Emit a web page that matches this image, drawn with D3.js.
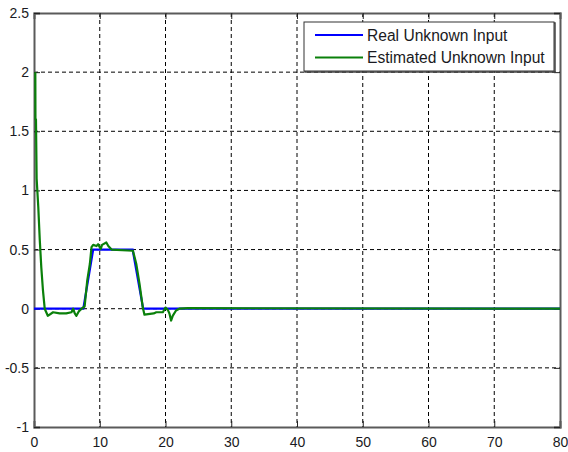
<!DOCTYPE html>
<html>
<head>
<meta charset="utf-8">
<script src="https://cdn.jsdelivr.net/npm/d3@7"></script>
<style>
html,body{margin:0;padding:0;background:#fff;}
svg{display:block;}
text{font-family:Arial,"Liberation Sans",sans-serif;fill:#1a1a22;}
</style>
</head>
<body>
<svg id="chart" width="568" height="452"></svg>
<script>
// ---- data ----
const xTicks = [0, 10, 20, 30, 40, 50, 60, 70, 80];
const yTicks = [-1, -0.5, 0, 0.5, 1, 1.5, 2, 2.5];
const yTickLabels = ["-1", "-0.5", "0", "0.5", "1", "1.5", "2", "2.5"];
const seriesNames = ["Real Unknown Input", "Estimated Unknown Input"];

const realT = [0, 7.5, 9, 15, 16.6, 80];
const realV = [0, 0, 0.5, 0.5, 0, 0];

const estT = [0.2, 0.22, 0.3, 0.4, 0.65, 0.88, 1.11, 1.37, 1.63, 2.1, 2.9, 3.9, 4.9, 5.7, 5.95, 6.2, 6.45, 6.85, 7.25, 7.7, 8.1, 8.5, 8.75, 9.0, 9.5, 9.75, 10.15, 10.35, 11.0, 11.3, 11.8, 15.05, 15.55, 16.05, 16.55, 16.8, 18.2, 18.6, 19.6, 20.0, 20.35, 20.6, 20.85, 21.1, 21.6, 22.1, 23.4, 80];
const estV = [2.0, 1.6, 1.6, 1.1, 0.86, 0.58, 0.35, 0.15, 0.0, -0.06, -0.03, -0.04, -0.04, -0.03, 0.0, -0.04, -0.06, -0.02, 0.0, 0.02, 0.24, 0.38, 0.52, 0.54, 0.53, 0.545, 0.505, 0.54, 0.56, 0.53, 0.5, 0.49, 0.38, 0.21, 0.01, -0.05, -0.04, -0.03, -0.03, 0.01, -0.01, -0.04, -0.1, -0.06, -0.015, 0, 0.005, 0];

// ---- layout ----
const L = 34, R = 560, T = 13, B = 427;
const svg = d3.select("#chart");
const x = d3.scaleLinear().domain([0, 80]).range([L, R]);
const y = d3.scaleLinear().domain([-1, 2.5]).range([B, T]);

svg.append("rect").attr("x", 0).attr("y", 0).attr("width", 568).attr("height", 452).attr("fill", "#fff");

// grid
const grid = svg.append("g");
xTicks.slice(1, -1).forEach(t => {
  grid.append("line").attr("x1", x(t)).attr("x2", x(t)).attr("y1", T).attr("y2", B)
    .attr("stroke", "#000").attr("stroke-width", 1).attr("stroke-dasharray", "4,3");
});
yTicks.slice(1, -1).forEach(t => {
  grid.append("line").attr("x1", L).attr("x2", R).attr("y1", y(t)).attr("y2", y(t))
    .attr("stroke", "#000").attr("stroke-width", 1).attr("stroke-dasharray", "4,3");
});

// axes (MATLAB box with inward ticks)
const axColor = "#5a5a5a";
const xAxB = d3.axisBottom(x).tickValues(xTicks).tickSize(-6).tickPadding(10).tickFormat(d3.format("d"));
const xAxT = d3.axisTop(x).tickValues(xTicks).tickSize(-6).tickFormat("");
const yAxL = d3.axisLeft(y).tickValues(yTicks).tickSize(-6).tickPadding(5).tickFormat((d, i) => yTickLabels[i]);
const yAxR = d3.axisRight(y).tickValues(yTicks).tickSize(-6).tickFormat("");

function style(g) {
  g.select(".domain").attr("stroke", axColor).attr("stroke-width", 2);
  g.selectAll(".tick line").attr("stroke", "#222").attr("stroke-width", 1);
  g.selectAll(".tick text").attr("font-size", 14).attr("font-family", "Arial, 'Liberation Sans', sans-serif").attr("fill", "#1a1a22");
}
svg.append("g").attr("transform", `translate(0,${B})`).call(xAxB).call(style);
svg.append("g").attr("transform", `translate(0,${T})`).call(xAxT).call(style);
svg.append("g").attr("transform", `translate(${L},0)`).call(yAxL).call(style);
svg.append("g").attr("transform", `translate(${R},0)`).call(yAxR).call(style);

// lines
const line = d3.line().x(d => x(d[0])).y(d => y(d[1]));
svg.append("path").datum(realT.map((t, i) => [t, realV[i]]))
  .attr("d", line).attr("fill", "none").attr("stroke", "#0000ff").attr("stroke-width", 2.2);
svg.append("path").datum(estT.map((t, i) => [t, estV[i]]))
  .attr("d", line).attr("fill", "none").attr("stroke", "#0a800a").attr("stroke-width", 2.2)
  .attr("stroke-linejoin", "round");

// legend
const lg = svg.append("g");
lg.append("rect").attr("x", 305).attr("y", 23).attr("width", 250).attr("height", 49)
  .attr("fill", "none").attr("stroke", "#444").attr("stroke-width", 1.5);
lg.append("rect").attr("x", 304).attr("y", 22).attr("width", 250).attr("height", 49)
  .attr("fill", "#fff").attr("stroke", "#333").attr("stroke-width", 1);
const colors = ["#0000ff", "#0a800a"];
seriesNames.forEach((name, i) => {
  const yy = 35 + i * 22.5;
  lg.append("line").attr("x1", 315).attr("x2", 363).attr("y1", yy).attr("y2", yy)
    .attr("stroke", colors[i]).attr("stroke-width", 2.2);
  lg.append("text").attr("x", 367).attr("y", yy).attr("dy", "0.36em")
    .attr("font-size", 15.6).text(name);
});
</script>
</body>
</html>
